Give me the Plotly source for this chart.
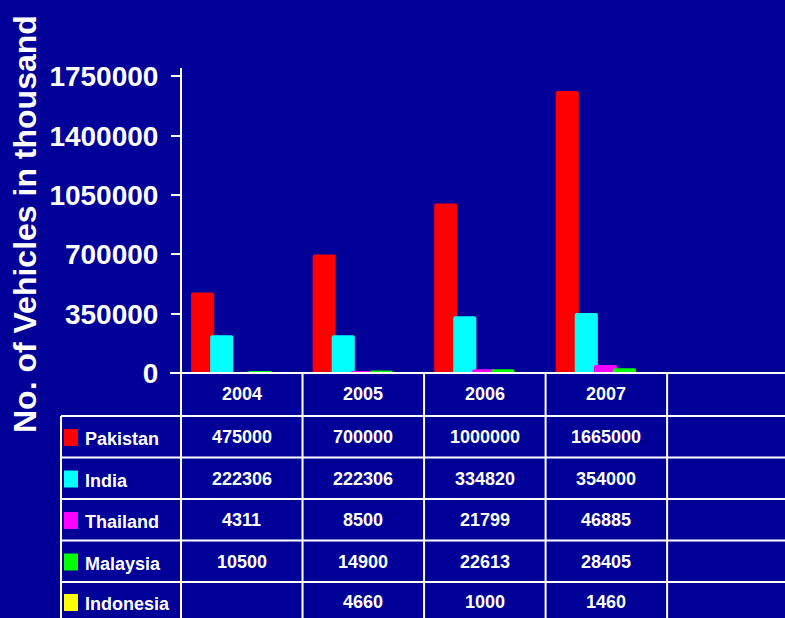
import plotly.graph_objects as go

years = ["2004", "2005", "2006", "2007"]
series_names = ["Pakistan", "India", "Thailand", "Malaysia", "Indonesia"]
pakistan = [475000, 700000, 1000000, 1665000]
india = [222306, 222306, 334820, 354000]
thailand = [4311, 8500, 21799, 46885]
malaysia = [10500, 14900, 22613, 28405]
indonesia = [None, 4660, 1000, 1460]
series_values = [pakistan, india, thailand, malaysia, indonesia]
colors = ["#FF0000", "#00FFFF", "#FF00FF", "#00FF00", "#FFFF00"]
y_ticks = [0, 350000, 700000, 1050000, 1400000, 1750000]

BG = "#000099"
FONT = "Liberation Sans"
W, H = 785, 618
L, R, T, B = 181, 0, 68, 245
PW = W - L - R
PH = H - T - B


def px_x(px):
    return (px - L) / PW


def px_y(py):
    return (H - B - py) / PH


fig = go.Figure()
n_slots = 5
x_idx = list(range(len(years)))
for i, (name, vals, col) in enumerate(zip(series_names, series_values, colors)):
    fig.add_trace(go.Bar(
        x=x_idx, y=vals, name=name,
        marker=dict(color=col, line=dict(width=0), cornerradius=2),
        width=0.19, offset=-0.417 + i * 0.157,
        showlegend=False, hoverinfo="skip",
    ))

fig.update_layout(
    width=W, height=H,
    margin=dict(l=L, r=R, t=T, b=B),
    paper_bgcolor=BG, plot_bgcolor=BG,
    barmode="overlay",
    font=dict(family=FONT, color="white"),
    xaxis=dict(range=[-0.5, n_slots - 0.53], showticklabels=False, showgrid=False,
               zeroline=False, showline=False, fixedrange=True),
    yaxis=dict(range=[0, 1800000], tickvals=y_ticks,
               ticktext=[str(v) for v in y_ticks],
               tickfont=dict(family=FONT, size=28, color="white", weight="bold"),
               ticks="outside", ticklen=9, tickwidth=2, tickcolor="white",
               ticklabelstandoff=7,
               showgrid=False, zeroline=False, showline=False),
)

shapes = []
line = dict(color="white", width=2)
# y axis line extended through table
shapes.append(dict(type="line", xref="paper", yref="paper", x0=0, x1=0,
                   y0=px_y(H), y1=1, line=line))
# x axis / table top line
shapes.append(dict(type="line", xref="paper", yref="paper", x0=px_x(170), x1=1,
                   y0=0, y1=0, line=line))
row_lines = [416, 457.5, 499, 540.5, 582]
for ry in row_lines:
    shapes.append(dict(type="line", xref="paper", yref="paper", x0=px_x(61), x1=1,
                       y0=px_y(ry), y1=px_y(ry), line=line))
# left border of legend column
shapes.append(dict(type="line", xref="paper", yref="paper", x0=px_x(61), x1=px_x(61),
                   y0=px_y(H), y1=px_y(416), line=line))
# column separators
for k in range(1, n_slots):
    shapes.append(dict(type="line", xref="x", yref="paper", x0=k - 0.5, x1=k - 0.5,
                       y0=px_y(H), y1=0, line=line))

annotations = []
# y axis title
annotations.append(dict(text="No. of Vehicles in thousand", textangle=-90,
                        xref="paper", yref="paper", x=px_x(25), y=px_y(224),
                        xanchor="center", yanchor="middle", showarrow=False,
                        font=dict(family=FONT, size=32, color="white", weight="bold")))
cell_font = dict(family=FONT, size=18, color="white", weight="bold")
# header years
for i, yr in enumerate(years):
    annotations.append(dict(text=yr, xref="x", yref="paper", x=i, y=px_y(394),
                            xanchor="center", yanchor="middle", showarrow=False,
                            font=cell_font))
row_centers = [437, 478.5, 520, 561.5, 602]
for r, (name, vals, col) in enumerate(zip(series_names, series_values, colors)):
    cy = row_centers[r]
    shapes.append(dict(type="rect", xref="paper", yref="paper",
                       x0=px_x(64), x1=px_x(78), y0=px_y(cy - 8), y1=px_y(cy + 9),
                       fillcolor=col, line=dict(width=0)))
    annotations.append(dict(text=name, xref="paper", yref="paper", x=px_x(83), y=px_y(cy + 2),
                            xanchor="left", yanchor="middle", showarrow=False,
                            font=cell_font))
    for i, v in enumerate(vals):
        if v is None:
            continue
        annotations.append(dict(text=str(v), xref="x", yref="paper", x=i, y=px_y(cy),
                                xanchor="center", yanchor="middle", showarrow=False,
                                font=cell_font))

fig.update_layout(shapes=shapes, annotations=annotations)
fig.write_html(
    "out.html",
    config={"displayModeBar": False},
    post_script="document.body.style.margin='0';document.body.style.overflow='hidden';",
)
